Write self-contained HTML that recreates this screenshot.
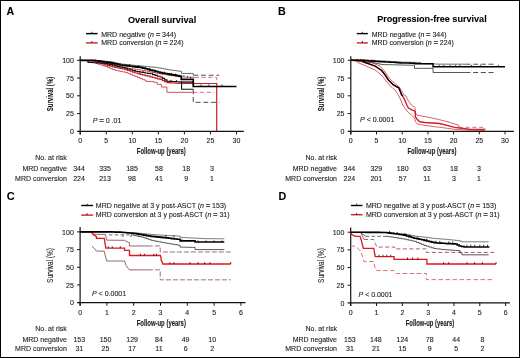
<!DOCTYPE html><html><head><meta charset="utf-8"><style>html,body{margin:0;padding:0;background:#fff;overflow:hidden}svg{display:block;will-change:transform}text{font-family:"Liberation Sans", sans-serif;stroke:#1a1a1a;stroke-width:0.1px}</style></head><body>
<svg width="520" height="358" viewBox="0 0 520 358">
<rect x="0" y="0" width="520" height="358" fill="#fff"/>
<text x="6.5" y="14.8" font-size="10.7" text-anchor="start" font-weight="bold" fill="#000" stroke="#000" stroke-width="0.3">A</text>
<text x="277.9" y="15.2" font-size="10.7" text-anchor="start" font-weight="bold" fill="#000" stroke="#000" stroke-width="0.3">B</text>
<text x="6.7" y="200.2" font-size="11" text-anchor="start" font-weight="bold" fill="#000" stroke="#000" stroke-width="0.3">C</text>
<text x="278.4" y="200.3" font-size="10.7" text-anchor="start" font-weight="bold" fill="#000" stroke="#000" stroke-width="0.3">D</text>
<text x="128" y="22.6" font-size="9.1" text-anchor="start" font-weight="bold" fill="#000" textLength="68.2" lengthAdjust="spacingAndGlyphs">Overall survival</text>
<text x="377.2" y="22.4" font-size="9.1" text-anchor="start" font-weight="bold" fill="#000" textLength="109.5" lengthAdjust="spacingAndGlyphs">Progression-free survival</text>
<path d="M86 33.6H97.6" fill="none" stroke="#000" stroke-width="1.4" />
<path d="M86 42.9H97.6" fill="none" stroke="#d01f25" stroke-width="1.4" />
<path d="M91.8 33.6V31.8" fill="none" stroke="#000" stroke-width="0.8" />
<path d="M91.8 42.9V41.1" fill="none" stroke="#000" stroke-width="0.8" />
<text x="101.2" y="36.8" font-size="7" text-anchor="start" font-weight="normal" fill="#1a1a1a" textLength="74.9" lengthAdjust="spacingAndGlyphs">MRD negative (<tspan font-style="italic">n</tspan> <tspan stroke-width="0.7" stroke="#555">=</tspan> 344)</text>
<text x="101.2" y="45.4" font-size="7" text-anchor="start" font-weight="normal" fill="#1a1a1a" textLength="82.4" lengthAdjust="spacingAndGlyphs">MRD conversion (<tspan font-style="italic">n</tspan> <tspan stroke-width="0.7" stroke="#555">=</tspan> 224)</text>
<path d="M356.8 33.6H367.9" fill="none" stroke="#000" stroke-width="1.4" />
<path d="M356.8 42.9H367.9" fill="none" stroke="#d01f25" stroke-width="1.4" />
<path d="M362.35 33.6V31.8" fill="none" stroke="#000" stroke-width="0.8" />
<path d="M362.35 42.9V41.1" fill="none" stroke="#000" stroke-width="0.8" />
<text x="371.7" y="36.8" font-size="7" text-anchor="start" font-weight="normal" fill="#1a1a1a" textLength="74.8" lengthAdjust="spacingAndGlyphs">MRD negative (<tspan font-style="italic">n</tspan> <tspan stroke-width="0.7" stroke="#555">=</tspan> 344)</text>
<text x="371.7" y="45.4" font-size="7" text-anchor="start" font-weight="normal" fill="#1a1a1a" textLength="82.1" lengthAdjust="spacingAndGlyphs">MRD conversion (<tspan font-style="italic">n</tspan> <tspan stroke-width="0.7" stroke="#555">=</tspan> 224)</text>
<path d="M81.2 205.5H93.1" fill="none" stroke="#000" stroke-width="1.4" />
<path d="M81.2 215.1H93.1" fill="none" stroke="#d01f25" stroke-width="1.4" />
<path d="M87.15 205.5V203.7" fill="none" stroke="#000" stroke-width="0.8" />
<path d="M87.15 215.1V213.3" fill="none" stroke="#000" stroke-width="0.8" />
<text x="95.8" y="208.2" font-size="7" text-anchor="start" font-weight="normal" fill="#1a1a1a" textLength="130.4" lengthAdjust="spacingAndGlyphs">MRD negative at 3 y post-ASCT (<tspan font-style="italic">n</tspan> <tspan stroke-width="0.7" stroke="#555">=</tspan> 153)</text>
<text x="95.8" y="217.2" font-size="7" text-anchor="start" font-weight="normal" fill="#1a1a1a" textLength="133.8" lengthAdjust="spacingAndGlyphs">MRD conversion at 3 y post-ASCT (<tspan font-style="italic">n</tspan> <tspan stroke-width="0.7" stroke="#555">=</tspan> 31)</text>
<path d="M350.9 205.5H362.5" fill="none" stroke="#000" stroke-width="1.4" />
<path d="M350.9 214.7H362.5" fill="none" stroke="#d01f25" stroke-width="1.4" />
<path d="M356.7 205.5V203.7" fill="none" stroke="#000" stroke-width="0.8" />
<path d="M356.7 214.7V212.9" fill="none" stroke="#000" stroke-width="0.8" />
<text x="365.9" y="208.2" font-size="7" text-anchor="start" font-weight="normal" fill="#1a1a1a" textLength="130.4" lengthAdjust="spacingAndGlyphs">MRD negative at 3 y post-ASCT (<tspan font-style="italic">n</tspan> <tspan stroke-width="0.7" stroke="#555">=</tspan> 153)</text>
<text x="365.9" y="217" font-size="7" text-anchor="start" font-weight="normal" fill="#1a1a1a" textLength="133.8" lengthAdjust="spacingAndGlyphs">MRD conversion at 3 y post-ASCT (<tspan font-style="italic">n</tspan> <tspan stroke-width="0.7" stroke="#555">=</tspan> 31)</text>
<path d="M80.2 56.2V134.4" fill="none" stroke="#111" stroke-width="1.2" />
<path d="M77.1 131.3H243.8" fill="none" stroke="#111" stroke-width="1.2" />
<path d="M77.1 113.55H80.2" fill="none" stroke="#111" stroke-width="1.0" />
<path d="M77.1 95.8H80.2" fill="none" stroke="#111" stroke-width="1.0" />
<path d="M77.1 78.05H80.2" fill="none" stroke="#111" stroke-width="1.0" />
<path d="M77.1 60.3H80.2" fill="none" stroke="#111" stroke-width="1.0" />
<text x="73.9" y="133.9" font-size="7" text-anchor="end" font-weight="normal" fill="#1a1a1a" >0</text>
<text x="73.9" y="116.15" font-size="7" text-anchor="end" font-weight="normal" fill="#1a1a1a" >25</text>
<text x="73.9" y="98.4" font-size="7" text-anchor="end" font-weight="normal" fill="#1a1a1a" >50</text>
<text x="73.9" y="80.65" font-size="7" text-anchor="end" font-weight="normal" fill="#1a1a1a" >75</text>
<text x="73.9" y="62.9" font-size="7" text-anchor="end" font-weight="normal" fill="#1a1a1a" >100</text>
<path d="M80.2 131.3V134.4" fill="none" stroke="#111" stroke-width="1.0" />
<text x="80.2" y="143" font-size="7" text-anchor="middle" font-weight="normal" fill="#1a1a1a" >0</text>
<path d="M106.25 131.3V134.4" fill="none" stroke="#111" stroke-width="1.0" />
<text x="106.25" y="143" font-size="7" text-anchor="middle" font-weight="normal" fill="#1a1a1a" >5</text>
<path d="M132.3 131.3V134.4" fill="none" stroke="#111" stroke-width="1.0" />
<text x="132.3" y="143" font-size="7" text-anchor="middle" font-weight="normal" fill="#1a1a1a" >10</text>
<path d="M158.35 131.3V134.4" fill="none" stroke="#111" stroke-width="1.0" />
<text x="158.35" y="143" font-size="7" text-anchor="middle" font-weight="normal" fill="#1a1a1a" >15</text>
<path d="M184.4 131.3V134.4" fill="none" stroke="#111" stroke-width="1.0" />
<text x="184.4" y="143" font-size="7" text-anchor="middle" font-weight="normal" fill="#1a1a1a" >20</text>
<path d="M210.45 131.3V134.4" fill="none" stroke="#111" stroke-width="1.0" />
<text x="210.45" y="143" font-size="7" text-anchor="middle" font-weight="normal" fill="#1a1a1a" >25</text>
<path d="M236.5 131.3V134.4" fill="none" stroke="#111" stroke-width="1.0" />
<text x="236.5" y="143" font-size="7" text-anchor="middle" font-weight="normal" fill="#1a1a1a" >30</text>
<path d="M350.8 56.2V134.4" fill="none" stroke="#111" stroke-width="1.2" />
<path d="M347.7 131.3H513.9" fill="none" stroke="#111" stroke-width="1.2" />
<path d="M347.7 113.55H350.8" fill="none" stroke="#111" stroke-width="1.0" />
<path d="M347.7 95.8H350.8" fill="none" stroke="#111" stroke-width="1.0" />
<path d="M347.7 78.05H350.8" fill="none" stroke="#111" stroke-width="1.0" />
<path d="M347.7 60.3H350.8" fill="none" stroke="#111" stroke-width="1.0" />
<text x="344.5" y="133.9" font-size="7" text-anchor="end" font-weight="normal" fill="#1a1a1a" >0</text>
<text x="344.5" y="116.15" font-size="7" text-anchor="end" font-weight="normal" fill="#1a1a1a" >25</text>
<text x="344.5" y="98.4" font-size="7" text-anchor="end" font-weight="normal" fill="#1a1a1a" >50</text>
<text x="344.5" y="80.65" font-size="7" text-anchor="end" font-weight="normal" fill="#1a1a1a" >75</text>
<text x="344.5" y="62.9" font-size="7" text-anchor="end" font-weight="normal" fill="#1a1a1a" >100</text>
<path d="M350.8 131.3V134.4" fill="none" stroke="#111" stroke-width="1.0" />
<text x="350.8" y="143" font-size="7" text-anchor="middle" font-weight="normal" fill="#1a1a1a" >0</text>
<path d="M376.5 131.3V134.4" fill="none" stroke="#111" stroke-width="1.0" />
<text x="376.5" y="143" font-size="7" text-anchor="middle" font-weight="normal" fill="#1a1a1a" >5</text>
<path d="M402.2 131.3V134.4" fill="none" stroke="#111" stroke-width="1.0" />
<text x="402.2" y="143" font-size="7" text-anchor="middle" font-weight="normal" fill="#1a1a1a" >10</text>
<path d="M427.9 131.3V134.4" fill="none" stroke="#111" stroke-width="1.0" />
<text x="427.9" y="143" font-size="7" text-anchor="middle" font-weight="normal" fill="#1a1a1a" >15</text>
<path d="M453.6 131.3V134.4" fill="none" stroke="#111" stroke-width="1.0" />
<text x="453.6" y="143" font-size="7" text-anchor="middle" font-weight="normal" fill="#1a1a1a" >20</text>
<path d="M479.3 131.3V134.4" fill="none" stroke="#111" stroke-width="1.0" />
<text x="479.3" y="143" font-size="7" text-anchor="middle" font-weight="normal" fill="#1a1a1a" >25</text>
<path d="M505 131.3V134.4" fill="none" stroke="#111" stroke-width="1.0" />
<text x="505" y="143" font-size="7" text-anchor="middle" font-weight="normal" fill="#1a1a1a" >30</text>
<path d="M80.1 227V305.7" fill="none" stroke="#111" stroke-width="1.2" />
<path d="M77.1 302.6H245.5" fill="none" stroke="#111" stroke-width="1.2" />
<path d="M77.1 284.93H80.1" fill="none" stroke="#111" stroke-width="1.0" />
<path d="M77.1 267.25H80.1" fill="none" stroke="#111" stroke-width="1.0" />
<path d="M77.1 249.58H80.1" fill="none" stroke="#111" stroke-width="1.0" />
<path d="M77.1 231.9H80.1" fill="none" stroke="#111" stroke-width="1.0" />
<text x="73.8" y="305.2" font-size="7" text-anchor="end" font-weight="normal" fill="#1a1a1a" >0</text>
<text x="73.8" y="287.53" font-size="7" text-anchor="end" font-weight="normal" fill="#1a1a1a" >25</text>
<text x="73.8" y="269.85" font-size="7" text-anchor="end" font-weight="normal" fill="#1a1a1a" >50</text>
<text x="73.8" y="252.18" font-size="7" text-anchor="end" font-weight="normal" fill="#1a1a1a" >75</text>
<text x="73.8" y="234.5" font-size="7" text-anchor="end" font-weight="normal" fill="#1a1a1a" >100</text>
<path d="M80.1 302.6V305.7" fill="none" stroke="#111" stroke-width="1.0" />
<text x="80.1" y="314.5" font-size="7" text-anchor="middle" font-weight="normal" fill="#1a1a1a" >0</text>
<path d="M106.9 302.6V305.7" fill="none" stroke="#111" stroke-width="1.0" />
<text x="106.9" y="314.5" font-size="7" text-anchor="middle" font-weight="normal" fill="#1a1a1a" >1</text>
<path d="M133.7 302.6V305.7" fill="none" stroke="#111" stroke-width="1.0" />
<text x="133.7" y="314.5" font-size="7" text-anchor="middle" font-weight="normal" fill="#1a1a1a" >2</text>
<path d="M160.5 302.6V305.7" fill="none" stroke="#111" stroke-width="1.0" />
<text x="160.5" y="314.5" font-size="7" text-anchor="middle" font-weight="normal" fill="#1a1a1a" >3</text>
<path d="M187.3 302.6V305.7" fill="none" stroke="#111" stroke-width="1.0" />
<text x="187.3" y="314.5" font-size="7" text-anchor="middle" font-weight="normal" fill="#1a1a1a" >4</text>
<path d="M214.1 302.6V305.7" fill="none" stroke="#111" stroke-width="1.0" />
<text x="214.1" y="314.5" font-size="7" text-anchor="middle" font-weight="normal" fill="#1a1a1a" >5</text>
<path d="M240.9 302.6V305.7" fill="none" stroke="#111" stroke-width="1.0" />
<text x="240.9" y="314.5" font-size="7" text-anchor="middle" font-weight="normal" fill="#1a1a1a" >6</text>
<path d="M350.7 227.4V306" fill="none" stroke="#111" stroke-width="1.2" />
<path d="M347.6 302.9H509.9" fill="none" stroke="#111" stroke-width="1.2" />
<path d="M347.6 285.22H350.7" fill="none" stroke="#111" stroke-width="1.0" />
<path d="M347.6 267.55H350.7" fill="none" stroke="#111" stroke-width="1.0" />
<path d="M347.6 249.87H350.7" fill="none" stroke="#111" stroke-width="1.0" />
<path d="M347.6 232.2H350.7" fill="none" stroke="#111" stroke-width="1.0" />
<text x="344.4" y="305.5" font-size="7" text-anchor="end" font-weight="normal" fill="#1a1a1a" >0</text>
<text x="344.4" y="287.82" font-size="7" text-anchor="end" font-weight="normal" fill="#1a1a1a" >25</text>
<text x="344.4" y="270.15" font-size="7" text-anchor="end" font-weight="normal" fill="#1a1a1a" >50</text>
<text x="344.4" y="252.47" font-size="7" text-anchor="end" font-weight="normal" fill="#1a1a1a" >75</text>
<text x="344.4" y="234.8" font-size="7" text-anchor="end" font-weight="normal" fill="#1a1a1a" >100</text>
<path d="M350.7 302.9V306" fill="none" stroke="#111" stroke-width="1.0" />
<text x="350.7" y="314.6" font-size="7" text-anchor="middle" font-weight="normal" fill="#1a1a1a" >0</text>
<path d="M376.52 302.9V306" fill="none" stroke="#111" stroke-width="1.0" />
<text x="376.52" y="314.6" font-size="7" text-anchor="middle" font-weight="normal" fill="#1a1a1a" >1</text>
<path d="M402.34 302.9V306" fill="none" stroke="#111" stroke-width="1.0" />
<text x="402.34" y="314.6" font-size="7" text-anchor="middle" font-weight="normal" fill="#1a1a1a" >2</text>
<path d="M428.16 302.9V306" fill="none" stroke="#111" stroke-width="1.0" />
<text x="428.16" y="314.6" font-size="7" text-anchor="middle" font-weight="normal" fill="#1a1a1a" >3</text>
<path d="M453.98 302.9V306" fill="none" stroke="#111" stroke-width="1.0" />
<text x="453.98" y="314.6" font-size="7" text-anchor="middle" font-weight="normal" fill="#1a1a1a" >4</text>
<path d="M479.8 302.9V306" fill="none" stroke="#111" stroke-width="1.0" />
<text x="479.8" y="314.6" font-size="7" text-anchor="middle" font-weight="normal" fill="#1a1a1a" >5</text>
<path d="M505.62 302.9V306" fill="none" stroke="#111" stroke-width="1.0" />
<text x="505.62" y="314.6" font-size="7" text-anchor="middle" font-weight="normal" fill="#1a1a1a" >6</text>
<text transform="translate(53.3 94) rotate(-90)" x="0" y="0" font-size="8.2" font-weight="bold" stroke="none" text-anchor="middle" fill="#1a1a1a" textLength="34.5" lengthAdjust="spacingAndGlyphs">Survival (%)</text>
<text transform="translate(323.7 94) rotate(-90)" x="0" y="0" font-size="8.2" font-weight="bold" stroke="none" text-anchor="middle" fill="#1a1a1a" textLength="34.5" lengthAdjust="spacingAndGlyphs">Survival (%)</text>
<text transform="translate(53 265.5) rotate(-90)" x="0" y="0" font-size="8.2" stroke="#1a1a1a" stroke-width="0.35" text-anchor="middle" fill="#1a1a1a" textLength="34.8" lengthAdjust="spacingAndGlyphs">Survival (%)</text>
<text transform="translate(323.6 265.5) rotate(-90)" x="0" y="0" font-size="8.2" stroke="#1a1a1a" stroke-width="0.35" text-anchor="middle" fill="#1a1a1a" textLength="34.8" lengthAdjust="spacingAndGlyphs">Survival (%)</text>
<text x="136.8" y="153.5" font-size="8.3" text-anchor="start" font-weight="bold" fill="#1a1a1a" stroke="none" textLength="49" lengthAdjust="spacingAndGlyphs">Follow-up (years)</text>
<text x="407.4" y="153.5" font-size="8.3" text-anchor="start" font-weight="bold" fill="#1a1a1a" stroke="none" textLength="49" lengthAdjust="spacingAndGlyphs">Follow-up (years)</text>
<text x="136.7" y="325.9" font-size="8.3" text-anchor="start" font-weight="bold" fill="#1a1a1a" stroke="none" textLength="49.2" lengthAdjust="spacingAndGlyphs">Follow-up (years)</text>
<text x="405.8" y="325.7" font-size="8.3" text-anchor="start" font-weight="bold" fill="#1a1a1a" stroke="none" textLength="48.4" lengthAdjust="spacingAndGlyphs">Follow-up (years)</text>
<text x="92.8" y="122.8" font-size="7" fill="#1a1a1a" textLength="28.7" lengthAdjust="spacingAndGlyphs"><tspan font-style="italic">P</tspan> <tspan stroke-width="0.7" stroke="#555">=</tspan> 0 .01</text>
<text x="360.1" y="122.4" font-size="7" fill="#1a1a1a" textLength="34.2" lengthAdjust="spacingAndGlyphs"><tspan font-style="italic">P</tspan> &lt; 0.0001</text>
<text x="92" y="295.7" font-size="7" fill="#1a1a1a" textLength="34.1" lengthAdjust="spacingAndGlyphs"><tspan font-style="italic">P</tspan> &lt; 0.0001</text>
<text x="358.6" y="296.8" font-size="7" fill="#1a1a1a" textLength="33.9" lengthAdjust="spacingAndGlyphs"><tspan font-style="italic">P</tspan> &lt; 0.0001</text>
<text x="66.8" y="160.1" font-size="7" text-anchor="end" font-weight="normal" fill="#1a1a1a" >No. at risk</text>
<text x="66.8" y="170.9" font-size="7" text-anchor="end" font-weight="normal" fill="#1a1a1a" >MRD negative</text>
<text x="66.8" y="181.1" font-size="7" text-anchor="end" font-weight="normal" fill="#1a1a1a" >MRD conversion</text>
<text x="79" y="170.9" font-size="7" text-anchor="middle" font-weight="normal" fill="#1a1a1a" >344</text>
<text x="79" y="181.1" font-size="7" text-anchor="middle" font-weight="normal" fill="#1a1a1a" >224</text>
<text x="105" y="170.9" font-size="7" text-anchor="middle" font-weight="normal" fill="#1a1a1a" >335</text>
<text x="105" y="181.1" font-size="7" text-anchor="middle" font-weight="normal" fill="#1a1a1a" >213</text>
<text x="132" y="170.9" font-size="7" text-anchor="middle" font-weight="normal" fill="#1a1a1a" >185</text>
<text x="132" y="181.1" font-size="7" text-anchor="middle" font-weight="normal" fill="#1a1a1a" >98</text>
<text x="159" y="170.9" font-size="7" text-anchor="middle" font-weight="normal" fill="#1a1a1a" >58</text>
<text x="159" y="181.1" font-size="7" text-anchor="middle" font-weight="normal" fill="#1a1a1a" >41</text>
<text x="186.2" y="170.9" font-size="7" text-anchor="middle" font-weight="normal" fill="#1a1a1a" >18</text>
<text x="186.2" y="181.1" font-size="7" text-anchor="middle" font-weight="normal" fill="#1a1a1a" >9</text>
<text x="212" y="170.9" font-size="7" text-anchor="middle" font-weight="normal" fill="#1a1a1a" >3</text>
<text x="212" y="181.1" font-size="7" text-anchor="middle" font-weight="normal" fill="#1a1a1a" >1</text>
<text x="337" y="160.1" font-size="7" text-anchor="end" font-weight="normal" fill="#1a1a1a" >No. at risk</text>
<text x="337" y="170.9" font-size="7" text-anchor="end" font-weight="normal" fill="#1a1a1a" >MRD negative</text>
<text x="337" y="181.1" font-size="7" text-anchor="end" font-weight="normal" fill="#1a1a1a" >MRD conversion</text>
<text x="349.4" y="170.9" font-size="7" text-anchor="middle" font-weight="normal" fill="#1a1a1a" >344</text>
<text x="349.4" y="181.1" font-size="7" text-anchor="middle" font-weight="normal" fill="#1a1a1a" >224</text>
<text x="376.3" y="170.9" font-size="7" text-anchor="middle" font-weight="normal" fill="#1a1a1a" >329</text>
<text x="376.3" y="181.1" font-size="7" text-anchor="middle" font-weight="normal" fill="#1a1a1a" >201</text>
<text x="402.7" y="170.9" font-size="7" text-anchor="middle" font-weight="normal" fill="#1a1a1a" >180</text>
<text x="402.7" y="181.1" font-size="7" text-anchor="middle" font-weight="normal" fill="#1a1a1a" >57</text>
<text x="427" y="170.9" font-size="7" text-anchor="middle" font-weight="normal" fill="#1a1a1a" >63</text>
<text x="427" y="181.1" font-size="7" text-anchor="middle" font-weight="normal" fill="#1a1a1a" >11</text>
<text x="454" y="170.9" font-size="7" text-anchor="middle" font-weight="normal" fill="#1a1a1a" >18</text>
<text x="454" y="181.1" font-size="7" text-anchor="middle" font-weight="normal" fill="#1a1a1a" >3</text>
<text x="479" y="170.9" font-size="7" text-anchor="middle" font-weight="normal" fill="#1a1a1a" >3</text>
<text x="479" y="181.1" font-size="7" text-anchor="middle" font-weight="normal" fill="#1a1a1a" >1</text>
<text x="66.8" y="331.3" font-size="7" text-anchor="end" font-weight="normal" fill="#1a1a1a" >No. at risk</text>
<text x="66.8" y="341.9" font-size="7" text-anchor="end" font-weight="normal" fill="#1a1a1a" >MRD negative</text>
<text x="66.8" y="351.4" font-size="7" text-anchor="end" font-weight="normal" fill="#1a1a1a" >MRD conversion</text>
<text x="79.3" y="341.9" font-size="7" text-anchor="middle" font-weight="normal" fill="#1a1a1a" >153</text>
<text x="79.3" y="351.4" font-size="7" text-anchor="middle" font-weight="normal" fill="#1a1a1a" >31</text>
<text x="105.5" y="341.9" font-size="7" text-anchor="middle" font-weight="normal" fill="#1a1a1a" >150</text>
<text x="105.5" y="351.4" font-size="7" text-anchor="middle" font-weight="normal" fill="#1a1a1a" >25</text>
<text x="132.1" y="341.9" font-size="7" text-anchor="middle" font-weight="normal" fill="#1a1a1a" >129</text>
<text x="132.1" y="351.4" font-size="7" text-anchor="middle" font-weight="normal" fill="#1a1a1a" >17</text>
<text x="159" y="341.9" font-size="7" text-anchor="middle" font-weight="normal" fill="#1a1a1a" >84</text>
<text x="159" y="351.4" font-size="7" text-anchor="middle" font-weight="normal" fill="#1a1a1a" >11</text>
<text x="185.6" y="341.9" font-size="7" text-anchor="middle" font-weight="normal" fill="#1a1a1a" >49</text>
<text x="185.6" y="351.4" font-size="7" text-anchor="middle" font-weight="normal" fill="#1a1a1a" >6</text>
<text x="212.2" y="341.9" font-size="7" text-anchor="middle" font-weight="normal" fill="#1a1a1a" >10</text>
<text x="212.2" y="351.4" font-size="7" text-anchor="middle" font-weight="normal" fill="#1a1a1a" >2</text>
<text x="337" y="331.3" font-size="7" text-anchor="end" font-weight="normal" fill="#1a1a1a" >No. at risk</text>
<text x="337" y="341.9" font-size="7" text-anchor="end" font-weight="normal" fill="#1a1a1a" >MRD negative</text>
<text x="337" y="351.4" font-size="7" text-anchor="end" font-weight="normal" fill="#1a1a1a" >MRD conversion</text>
<text x="349.9" y="341.9" font-size="7" text-anchor="middle" font-weight="normal" fill="#1a1a1a" >153</text>
<text x="349.9" y="351.4" font-size="7" text-anchor="middle" font-weight="normal" fill="#1a1a1a" >31</text>
<text x="375.9" y="341.9" font-size="7" text-anchor="middle" font-weight="normal" fill="#1a1a1a" >148</text>
<text x="375.9" y="351.4" font-size="7" text-anchor="middle" font-weight="normal" fill="#1a1a1a" >21</text>
<text x="402.4" y="341.9" font-size="7" text-anchor="middle" font-weight="normal" fill="#1a1a1a" >124</text>
<text x="402.4" y="351.4" font-size="7" text-anchor="middle" font-weight="normal" fill="#1a1a1a" >15</text>
<text x="429.7" y="341.9" font-size="7" text-anchor="middle" font-weight="normal" fill="#1a1a1a" >78</text>
<text x="429.7" y="351.4" font-size="7" text-anchor="middle" font-weight="normal" fill="#1a1a1a" >9</text>
<text x="456.2" y="341.9" font-size="7" text-anchor="middle" font-weight="normal" fill="#1a1a1a" >44</text>
<text x="456.2" y="351.4" font-size="7" text-anchor="middle" font-weight="normal" fill="#1a1a1a" >5</text>
<text x="482.4" y="341.9" font-size="7" text-anchor="middle" font-weight="normal" fill="#1a1a1a" >8</text>
<text x="482.4" y="351.4" font-size="7" text-anchor="middle" font-weight="normal" fill="#1a1a1a" >2</text>
<path d="M193.26 75.21H219.31" fill="none" stroke="#3c3c3c" stroke-width="0.9" stroke-dasharray="5 2.7"/>
<path d="M193.26 89.27V102.33H219.31" fill="none" stroke="#3c3c3c" stroke-width="0.9" stroke-dasharray="5 2.7"/>
<path d="M194.82 77.34H216.7V83.52" fill="none" stroke="#e0566f" stroke-width="0.9" stroke-dasharray="4 2.8"/>
<path d="M193.26 92.32H214.1" fill="none" stroke="#e0566f" stroke-width="0.9" stroke-dasharray="4 2.8"/>
<path d="M94.27 60.3H95.83V63.5H97.91V64.21H100V64.92H102.5V65.7H105V66.48H107.5V67.58H110V68.68H112.5V69.53H115V70.38H117.5V70.91H120V71.45H122.51V71.91H125.01V72.37H127.51V73.33H130.01V74.29H132.46V75.35H134.91V76.42H137.46V77.52H140.01V78.62H142.51V79.68H145.01V80.75H146.37V81.46H153.66V82.38H157.31V84.37H161.48V87.07H166.95V92.32H193.26" fill="none" stroke="#c03a48" stroke-width="0.85" />
<path d="M80.2 60.3H83.01V60.37H85.83V60.44H88.64V60.51H91.45V60.58H94.27V60.66H96.52V61.13H98.78V61.6H101.04V62.08H103.99V62.67H106.94V63.26H109.9V63.85H112.42V64.63H114.95V65.41H117.48V66.19H120V66.97H122.51V67.36H125.01V67.74H127.51V68.12H130.01V68.5H132.51V68.88H135.01V69.26H137.51V69.65H140.01V70.03H142.51V70.52H145.01V71.02H147.51V71.52H150.01V72.02H152.51V72.51H155.02V73.01H157.52V73.51H160.02V74H162.51V74.38H165.01V74.75H167.5V75.12H169.99V75.49H172.49V75.87H174.98V76.24H177.48V76.61H179.97V76.99H182.45V77.04H184.92V77.1H187.4V77.16H189.87V77.22H192.35V77.28H194.82V77.34" fill="none" stroke="#d8343a" stroke-width="0.85" />
<path d="M80.2 60.3H88.02H90.62V60.44H93.23V60.58H95.83V60.73H98.44V60.87H101.04V61.01H103.99V61.25H106.94V61.48H109.9V61.72H112.42V62.29H114.95V62.86H117.48V63.42H120V63.99H122.51V64.24H125.01V64.49H127.51V64.74H130.01V64.99H132.51V65.23H135.01V65.48H137.51V65.73H140.01V65.98H142.51V66.22H145.01V66.45H147.51V66.69H150.01V66.93H152.51V67.16H155.02V67.4H157.77V67.9H160.52V68.39H163.27V68.89H166.02V69.39H168.77V69.89H171.33V70.23H173.9V70.57H176.46V70.91H179.02V71.25H181.59V71.59V73.44H193.26V75.21" fill="none" stroke="#555" stroke-width="0.85" />
<path d="M80.2 60.3H83.01V60.51H85.83V60.73H88.64V60.94H91.45V61.15H94.27V61.37H96.52V62.08H98.78V62.79H101.04V63.5H103.02V64.21H105V64.92H107.5V65.54H110V66.16H112.5V66.78H115V67.4H117.5V67.93H120V68.47H122.51V69H125.01V69.53H127.48V70.4H129.96V71.27H132.43V72.14H134.91V73.01H137.43V73.65H139.96V74.29H142.49V74.93H145.01V75.57H147.51V76.22H150.01V76.87H152.51V77.52H155.02V78.17H157.52V78.82H160.02V79.47H162.33V80.54H164.64V81.6H166.95V82.67H169.71V82.84H172.47V83.01H175.23V83.18H177.99V83.35H180.75V83.52H216.7V131.3" fill="none" stroke="#d01f25" stroke-width="1.2" />
<path d="M88.02 60.3V62.43H90.62V62.57H93.23V62.71H95.83V62.86H98.44V63H101.04V63.14H103.02V63.32H105V63.5H107.5V64.08H110V64.67H112.5V65.25H115V65.84H117.5V66.42H120V67.01H122.51V67.6H125.01V68.18H127.48V68.94H129.96V69.71H132.43V70.47H134.91V71.23H137.42V71.66H139.94V72.09H142.46V72.51H144.98V72.94H147.5V73.36H150.01V73.79H152.51V74.59H155.02V75.39H157.52V76.19H160.02V76.99H162.33V78.41H164.64V79.83H166.95V81.25H169.39V81.36H171.83V81.48H174.27V81.6H176.71V81.72H179.15V81.84H181.59V81.96V89.27H193.26" fill="none" stroke="#111" stroke-width="1.1" />
<path d="M181.59 82.1H193" fill="none" stroke="#000" stroke-width="1.3" />
<path d="M80.2 60.3H92.7H95.48V60.73H98.26V61.15H101.04V61.58H103.99V61.98H106.94V62.38H109.9V62.79H112.42V63.34H114.95V63.89H117.48V64.44H120V64.99H122.51V65.3H125.01V65.61H127.51V65.92H130.01V66.23H132.51V66.54H135.01V66.85H137.51V67.16H140.01V67.47H142.51V68.12H145.01V68.77H147.51V69.41H150.01V70.06H152.51V70.71H155.02V71.36H157.52V72.01H160.02V72.65H162.34V73.08H164.65V73.51H166.97V73.93H169.29V74.36H171.69V74.78H174.08V75.21H176.48V75.64H178.88V76.06H181.27V76.49V79.33H193.26V86.5H236.5" fill="none" stroke="#000" stroke-width="1.7" />
<path d="M129.69 65.59V64.39" fill="none" stroke="#000" stroke-width="0.9" />
<path d="M138.55 66.69V65.49" fill="none" stroke="#000" stroke-width="0.9" />
<path d="M145.85 68.38V67.18" fill="none" stroke="#000" stroke-width="0.9" />
<path d="M149.49 69.33V68.13" fill="none" stroke="#000" stroke-width="0.9" />
<path d="M164.6 72.9V71.7" fill="none" stroke="#000" stroke-width="0.9" />
<path d="M171.38 74.13V72.93" fill="none" stroke="#000" stroke-width="0.9" />
<path d="M175.54 74.87V73.67" fill="none" stroke="#000" stroke-width="0.9" />
<path d="M183.88 76.51V75.31" fill="none" stroke="#000" stroke-width="0.9" />
<path d="M187.53 77.37V76.17" fill="none" stroke="#000" stroke-width="0.9" />
<path d="M190.65 78.11V76.91" fill="none" stroke="#000" stroke-width="0.9" />
<path d="M135.43 70.72V69.72" fill="none" stroke="#000" stroke-width="0.9" />
<path d="M143.76 72.13V71.13" fill="none" stroke="#000" stroke-width="0.9" />
<path d="M152.62 74.02V73.02" fill="none" stroke="#000" stroke-width="0.9" />
<path d="M170.85 80.83V79.83" fill="none" stroke="#000" stroke-width="0.9" />
<path d="M176.59 81.11V80.11" fill="none" stroke="#000" stroke-width="0.9" />
<path d="M201.07 86.5V84.5" fill="none" stroke="#000" stroke-width="0.8" />
<path d="M208.89 86.5V84.5" fill="none" stroke="#000" stroke-width="0.8" />
<path d="M221.91 86.5V84.5" fill="none" stroke="#000" stroke-width="0.8" />
<path d="M465.42 64.21H494.98" fill="none" stroke="#3c3c3c" stroke-width="0.9" stroke-dasharray="5 2.7"/>
<path d="M465.42 72.51H494.98" fill="none" stroke="#3c3c3c" stroke-width="0.9" stroke-dasharray="5 2.7"/>
<path d="M458.74 127.32H484.95V129.53" fill="none" stroke="#e0566f" stroke-width="0.9" stroke-dasharray="4 2.8"/>
<path d="M350.8 60.3H353.37V60.73H355.94V61.15H358.51V61.58H361.08V61.82H363.65V62.06H366.22V62.3H368.79V62.54H371.36V62.79H373.93V63.23H376.5V63.67H379.07V64.12H381.64V64.56H384.28V64.62H386.93V64.68H389.57V64.74H392.21V64.8H394.86V64.86H397.5V64.93H400.14V64.99H402.54V65.03H404.94V65.08H407.34V65.13H409.74V65.18H412.14V65.22H414.54V65.27V68.32H433.04V72.51H465.42" fill="none" stroke="#3a3a3a" stroke-width="0.85" />
<path d="M350.8 60.3H371.36H373.98V60.46H376.59V60.62H379.21V60.78H381.83V60.95H384.44V61.11H387.06V61.27H389.68V61.43H392.29V61.59H394.91V61.75H397.53V61.91H400.14V62.08H402.71V62.14H405.28V62.2H407.85V62.26H410.42V62.32H412.99V62.39H415.56V62.45H418.13V62.51H420.7V62.57V63.64H423.2V63.71H425.7V63.78H428.19V63.85H430.69V63.92H433.19V63.99H435.68V64.06H438.18V64.13H440.9V64.14H443.63V64.15H446.35V64.16H449.08V64.16H451.8V64.17H454.53V64.18H457.25V64.18H459.97V64.19H462.7V64.2H465.42V64.21" fill="none" stroke="#555" stroke-width="0.85" />
<path d="M350.8 60.3H355.43L357.23 62.22L364.99 65.63L374.96 69.89L381.28 75L384.72 79.12L389.35 85.01L392.59 87.99L395 89.98L398.4 95.02L400.14 98.64L402.71 105.03L404.77 108.01L407.6 111.99L411.45 114.97L414.54 118.02L415.56 122L418.13 124.2L424.82 125.41L439.72 127.32L454.63 129.31L469.02 130.16L484.95 130.45" fill="none" stroke="#c8303c" stroke-width="0.75" />
<path d="M350.8 60.3H361.08L369.82 61.72L380 66.12L383.7 70.03L387.14 75L390.89 79.97L396.8 85.01L400.14 87.99L401.02 89.98L404.26 95.02L406 96.01L407.85 99.99L411.45 105.03L415.05 107.52V112.49L417.11 115.33L420.7 115.82L430.47 117.67L439.72 119.73L450 122.5L458.74 125.19V127.32" fill="none" stroke="#c8303c" stroke-width="0.75" />
<path d="M350.8 60.3L360.05 60.51L364.99 62.5L374.96 66.12L380 69.46L381.64 70.6L384.72 74.5L388.32 79.97L393.46 85.01L398.91 87.99L399.63 89.98L401.69 95.02L402.61 96.01L404.77 99.99L406.83 105.03L408.37 108.01L412.99 110.36L415.31 111.21V116.75L417.11 119.23L419.68 121.72L424.82 122.5L439.72 123.49L454.63 127.32L469.02 129.31L484.95 129.53" fill="none" stroke="#d01f25" stroke-width="1.4" />
<path d="M362.11 60.87L364.99 62.36L374.96 65.98L380 69.32L381.64 70.45L384.72 74.36L388.32 79.83L393.46 84.87L398.91 87.85L399.63 89.84L401.69 94.88L402.71 96.16" fill="none" stroke="#000" stroke-width="1.25" />
<path d="M350.8 60.3H361.08H363.65V60.55H366.22V60.8H368.79V61.05H371.36V61.29H373.93V61.41H376.5V61.53H379.07V61.65H381.64V61.77H384.21V61.89H386.78V62H389.45V62.19H392.13V62.37H394.8V62.56H397.47V62.74H400.14V62.93H402.63V62.99H405.11V63.05H407.6V63.1H410.08V63.16H412.57V63.22H415.05V63.28V63.71H417.62V63.73H420.19V63.75H422.76V63.77H425.33V63.79H427.9V63.81H430.47V63.83H433.04V63.85V66.83H505" fill="none" stroke="#000" stroke-width="1.5" />
<path d="M471.59 66.83V64.83" fill="none" stroke="#000" stroke-width="0.8" />
<path d="M480.33 66.83V64.83" fill="none" stroke="#000" stroke-width="0.8" />
<path d="M498.32 66.83V64.83" fill="none" stroke="#000" stroke-width="0.8" />
<path d="M439.21 66.83V64.83" fill="none" stroke="#000" stroke-width="0.8" />
<path d="M443.83 66.83V64.83" fill="none" stroke="#000" stroke-width="0.8" />
<path d="M450 66.83V64.83" fill="none" stroke="#000" stroke-width="0.8" />
<path d="M455.66 66.83V64.83" fill="none" stroke="#000" stroke-width="0.8" />
<path d="M459.77 66.83V64.83" fill="none" stroke="#000" stroke-width="0.8" />
<path d="M356.97 60.6V59" fill="none" stroke="#000" stroke-width="0.9" />
<path d="M360.57 60.77V59.17" fill="none" stroke="#000" stroke-width="0.9" />
<path d="M364.16 60.95V59.35" fill="none" stroke="#000" stroke-width="0.9" />
<path d="M367.76 61.12V59.52" fill="none" stroke="#000" stroke-width="0.9" />
<path d="M371.87 61.32V59.72" fill="none" stroke="#000" stroke-width="0.9" />
<path d="M374.44 61.44V59.84" fill="none" stroke="#000" stroke-width="0.9" />
<path d="M147.9 245.97H160.23V251.98H230.72" fill="none" stroke="#9e6f82" stroke-width="1.0" stroke-dasharray="5 2"/>
<path d="M147.9 269.87H160.23V279.83H230.72" fill="none" stroke="#9e6f82" stroke-width="1.0" stroke-dasharray="5 2"/>
<path d="M92.29 246.11L96.45 250.99L104.22 251.27L106.63 261.03H124.59L126.2 265.84L129.41 269.87H147.9" fill="none" stroke="#8a5560" stroke-width="0.9" />
<path d="M91.36 231.9L92.96 234.02L96.45 234.37H105.56L106.63 240.17L124.59 240.31L127 241.73L129.41 242.72V245.97H147.9" fill="none" stroke="#8a5560" stroke-width="0.9" />
<path d="M109.04 234.87H131.02" fill="none" stroke="#555" stroke-width="0.9" stroke-dasharray="3.5 2.2"/>
<path d="M131.02 234.87H133.7V235.45H136.38V236.04H139.06V236.62H141.74V237.2H144.08V238H146.43V238.79H148.78V239.59H151.12V240.38H153.58V240.86H156.03V241.33H158.49V241.8H160.95V242.27H163.4V242.74H165.86V243.21H168.7V243.69H171.54V244.17H174.38V244.65H177.22V245.14H180.06V245.62V247.1H182.57V247.16H185.07V247.22H187.57V247.28H190.07V247.34H192.57V247.4H195.07V247.45V249.58H224.28" fill="none" stroke="#3a3a3a" stroke-width="0.85" />
<path d="M80.1 231.9H112.26H114.94V232.01H117.62V232.11H120.3V232.22H122.98V232.32H125.66V232.43H128.34V232.54H131.02V232.64H133.7V232.75H136.19V233H138.68V233.25H141.17V233.51H143.65V233.76H146.14V234.01H148.63V234.26H151.12V234.52H153.58V234.67H156.03V234.82H158.49V234.98H160.95V235.13H163.4V235.28H165.86V235.44H168.7V235.59H171.54V235.75H174.38V235.9H177.22V236.06H180.06V236.21V237.41H182.65V237.55H185.25V237.68H187.84V237.82H190.43V237.95H193.02V238.08H195.61V238.22H198.2V238.35H200.79V238.48H203.38V238.62H205.99V238.64H208.61V238.67H211.22V238.7H213.83V238.72H216.44V238.75H219.06V238.78H221.67V238.8H224.28V238.83" fill="none" stroke="#666" stroke-width="0.85" />
<path d="M80.1 231.9H91.36L92.96 234.37L96.45 236.71V238.4H104.22L105.83 248.09H124.51V250.42H129.49V255.51H160.5L161.3 260.39L162.91 264H230.72" fill="none" stroke="#e5161d" stroke-width="1.35" />
<path d="M80.1 231.9H109.58H112.26V231.99H114.94V232.08H117.62V232.17H120.3V232.25H122.98V232.49H125.66V232.73H128.34V232.97H131.02V233.22H133.7V233.46H136.19V233.88H138.68V234.3H141.17V234.73H143.65V235.15H146.14V235.58H148.63V236H151.12V236.42H153.58V236.67H156.03V236.92H158.49V237.17H160.95V237.41H163.4V237.66H165.86V237.91H168.7V238.26H171.54V238.62H174.38V238.97H177.22V239.32H180.06V239.68V240.88H195.07V242.01H224.28" fill="none" stroke="#000" stroke-width="1.6" />
<path d="M108.24 248.09V246.29" fill="none" stroke="#000" stroke-width="0.8" />
<path d="M112.26 248.09V246.29" fill="none" stroke="#000" stroke-width="0.8" />
<path d="M120.3 248.09V246.29" fill="none" stroke="#000" stroke-width="0.8" />
<path d="M140.4 255.51V253.71" fill="none" stroke="#000" stroke-width="0.8" />
<path d="M144.42 255.51V253.71" fill="none" stroke="#000" stroke-width="0.8" />
<path d="M153.8 255.51V253.71" fill="none" stroke="#000" stroke-width="0.8" />
<path d="M156.48 255.51V253.71" fill="none" stroke="#000" stroke-width="0.8" />
<path d="M169.88 264V262.2" fill="none" stroke="#000" stroke-width="0.8" />
<path d="M173.9 264V262.2" fill="none" stroke="#000" stroke-width="0.8" />
<path d="M189.98 264V262.2" fill="none" stroke="#000" stroke-width="0.8" />
<path d="M198.02 264V262.2" fill="none" stroke="#000" stroke-width="0.8" />
<path d="M204.72 264V262.2" fill="none" stroke="#000" stroke-width="0.8" />
<path d="M210.08 264V262.2" fill="none" stroke="#000" stroke-width="0.8" />
<path d="M230.72 264V262.2" fill="none" stroke="#000" stroke-width="0.8" />
<path d="M122.98 236.85V235.25" fill="none" stroke="#000" stroke-width="0.8" />
<path d="M131.02 236.85V235.25" fill="none" stroke="#000" stroke-width="0.8" />
<path d="M139.06 236.85V235.25" fill="none" stroke="#000" stroke-width="0.8" />
<path d="M149.78 236.85V235.25" fill="none" stroke="#000" stroke-width="0.8" />
<path d="M165.86 236.85V235.25" fill="none" stroke="#000" stroke-width="0.8" />
<path d="M173.9 236.85V235.25" fill="none" stroke="#000" stroke-width="0.8" />
<path d="M181.94 240.81V239.21" fill="none" stroke="#000" stroke-width="0.8" />
<path d="M198.02 242.01V240.41" fill="none" stroke="#000" stroke-width="0.8" />
<path d="M206.06 242.01V240.41" fill="none" stroke="#000" stroke-width="0.8" />
<path d="M214.1 242.01V240.41" fill="none" stroke="#000" stroke-width="0.8" />
<path d="M222.14 242.01V240.41" fill="none" stroke="#000" stroke-width="0.8" />
<path d="M350.7 246.2H355.86L360.51 251.01L362.84 257.3L363.87 261.47H373.68L375.49 269.67L377.04 270.59H394.08L396.14 273.49H426.35V279.64H494.52" fill="none" stroke="#dc6e7c" stroke-width="1.0" stroke-dasharray="4.5 2.5"/>
<path d="M364.13 239.48H373.68L375.23 243.51L377.04 247.05H394.59V248.89H426.35V252.42H494.52" fill="none" stroke="#a85a7a" stroke-width="1.0" stroke-dasharray="4 2.5"/>
<path d="M361.03 233.33L364.13 239.48" fill="none" stroke="#8a5560" stroke-width="0.9" />
<path d="M365.93 236.3H385.04" fill="none" stroke="#555" stroke-width="0.9" stroke-dasharray="3.5 2.2"/>
<path d="M361.03 232.91L365.93 236.3" fill="none" stroke="#3a3a3a" stroke-width="0.85" />
<path d="M385.04 236.3H388.05V236.7H391.07V237.1H394.08V237.5H396.53V237.91H398.98V238.32H401.44V238.72H403.89V239.13H406.41V239.69H408.92V240.26H411.44V240.83H413.96V241.39H416.48V242.4H418.99V243.41H421.51V244.41H424.03V245.42H426.48V246.2H428.93V246.98H431.39V247.75H433.84V248.53H436.62V248.85H439.39V249.17H442.17V249.49H444.94V249.8H447.52V249.96H450.11V250.12H452.69V250.27H455.27V250.43H457.85V250.58H459.92V252.7H461.98V254.82H488.58" fill="none" stroke="#3a3a3a" stroke-width="0.85" />
<path d="M350.7 232.2H381.68H384.16V232.44H386.64V232.68H389.12V232.92H391.6V233.16H394.08V233.4H396.53V233.58H398.98V233.76H401.44V233.93H403.89V234.11H406.41V234.59H408.92V235.06H411.44V235.54H413.96V236.02H416.48V236.32H418.99V236.62H421.51V236.92H424.03V237.22H426.48V237.54H428.93V237.86H431.39V238.17H433.84V238.49H436.62V238.7H439.39V238.92H442.17V239.13H444.94V239.34H447.52V239.6H450.11V239.85H452.69V240.1H455.27V240.36H457.85V240.61H459.92V241.21H461.98V241.82H488.58" fill="none" stroke="#666" stroke-width="0.85" />
<path d="M350.7 232.2L351.47 234.32L355.09 236.37H360L361.03 239.2L363.35 248.32H373.68L375.23 256.59H394.08V259.42H426.87V264.01H496.07" fill="none" stroke="#e5161d" stroke-width="1.35" />
<path d="M350.7 232.2H353.26V232.22H355.82V232.24H358.39V232.27H360.95V232.29H363.51V232.31H366.07V232.33H368.63V232.35H371.2V232.37H373.76V232.4H376.32V232.42H378.88V232.44H381.45V232.46H384.01V232.48H386.53V232.78H389.04V233.08H391.56V233.38H394.08V233.68H396.53V234.06H398.98V234.43H401.44V234.8H403.89V235.17H406.41V235.95H408.92V236.72H411.44V237.5H413.96V238.28H416.48V238.79H418.99V239.31H421.51V239.82H424.03V240.33H426.48V240.93H428.93V241.53H431.39V242.13H433.84V242.73H436.62V242.93H439.39V243.12H442.17V243.32H444.94V243.51H447.46V243.62H449.98V243.72H452.5V243.83H455.01V243.94H457.08V244.96H459.14V245.99H461.6V246.52H464.05V247.05H489.35" fill="none" stroke="#000" stroke-width="1.6" />
<path d="M389.43 232.53V230.83" fill="none" stroke="#000" stroke-width="0.8" />
<path d="M397.18 233.55V231.85" fill="none" stroke="#000" stroke-width="0.8" />
<path d="M404.92 234.89V233.19" fill="none" stroke="#000" stroke-width="0.8" />
<path d="M410.09 236.48V234.78" fill="none" stroke="#000" stroke-width="0.8" />
<path d="M417.83 238.47V236.77" fill="none" stroke="#000" stroke-width="0.8" />
<path d="M426.87 240.43V238.73" fill="none" stroke="#000" stroke-width="0.8" />
<path d="M435.91 242.28V240.58" fill="none" stroke="#000" stroke-width="0.8" />
<path d="M439.78 242.55V240.85" fill="none" stroke="#000" stroke-width="0.8" />
<path d="M448.82 243.08V241.38" fill="none" stroke="#000" stroke-width="0.8" />
<path d="M452.69 243.24V241.54" fill="none" stroke="#000" stroke-width="0.8" />
<path d="M466.89 246.45V244.75" fill="none" stroke="#000" stroke-width="0.8" />
<path d="M470.76 246.45V244.75" fill="none" stroke="#000" stroke-width="0.8" />
<path d="M474.64 246.45V244.75" fill="none" stroke="#000" stroke-width="0.8" />
<path d="M479.8 246.45V244.75" fill="none" stroke="#000" stroke-width="0.8" />
<path d="M483.67 246.45V244.75" fill="none" stroke="#000" stroke-width="0.8" />
<path d="M487.55 246.45V244.75" fill="none" stroke="#000" stroke-width="0.8" />
<path d="M379.1 256.59V254.79" fill="none" stroke="#000" stroke-width="0.8" />
<path d="M382.97 256.59V254.79" fill="none" stroke="#000" stroke-width="0.8" />
<path d="M386.85 256.59V254.79" fill="none" stroke="#000" stroke-width="0.8" />
<path d="M390.72 256.59V254.79" fill="none" stroke="#000" stroke-width="0.8" />
<path d="M407.5 259.42V257.62" fill="none" stroke="#000" stroke-width="0.8" />
<path d="M412.67 259.42V257.62" fill="none" stroke="#000" stroke-width="0.8" />
<path d="M417.83 259.42V257.62" fill="none" stroke="#000" stroke-width="0.8" />
<path d="M443.65 264.01V262.21" fill="none" stroke="#000" stroke-width="0.8" />
<path d="M448.82 264.01V262.21" fill="none" stroke="#000" stroke-width="0.8" />
<path d="M466.89 264.01V262.21" fill="none" stroke="#000" stroke-width="0.8" />
<path d="M474.64 264.01V262.21" fill="none" stroke="#000" stroke-width="0.8" />
<path d="M482.38 264.01V262.21" fill="none" stroke="#000" stroke-width="0.8" />
<path d="M496.07 264.01V262.21" fill="none" stroke="#000" stroke-width="0.8" />
<rect x="0.5" y="0.5" width="519" height="357" fill="none" stroke="#000" stroke-width="1"/>
</svg></body></html>
